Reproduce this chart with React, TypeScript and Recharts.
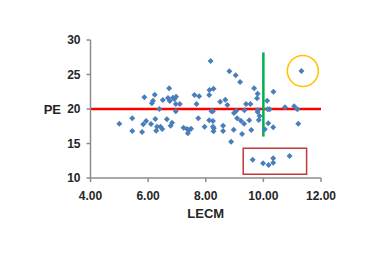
import React from "react";
import {
  ScatterChart,
  Scatter,
  XAxis,
  YAxis,
  ReferenceLine,
  ReferenceDot,
  ReferenceArea,
  Label,
} from "recharts";

// LECM values (x)
const lecm: number[] = [
  5.0, 5.45, 5.45, 5.79, 5.83, 5.93, 5.87, 6.1, 6.13, 6.17,
  6.23, 6.25, 6.28, 6.31, 6.39, 6.43, 6.49, 6.51, 6.65, 6.69,
  6.73, 6.75, 6.78, 6.83, 6.86, 6.91, 6.96, 6.97, 6.96, 7.1,
  7.23, 7.35, 7.38, 7.42, 7.49, 7.61, 7.68, 7.74, 7.77, 7.96,
  8.12, 8.13, 8.17, 8.12, 8.2, 8.25, 8.25, 8.27, 8.25, 8.27,
  8.28, 8.5, 8.6, 8.6, 8.68, 8.75, 8.82, 8.88, 8.97, 8.98,
  9.04, 9.06, 9.09, 9.19, 9.22, 9.26, 9.33, 9.34, 9.4, 9.51,
  9.55, 9.58, 9.68, 9.78, 9.8, 9.8, 9.8, 9.84, 9.87, 10.05,
  10.13, 10.15, 10.22, 10.17, 10.34, 10.35, 10.75, 11.07, 11.18, 11.21,
  11.32, 9.63, 9.99, 10.18, 10.34, 10.34, 10.91,
];

// PE values (y)
const pe: number[] = [
  17.87, 18.65, 16.81, 16.67, 17.78, 18.26, 21.7, 17.83, 20.83, 21.2,
  22.07, 18.55, 16.86, 17.43, 20.0, 17.43, 17.1, 21.3, 18.51, 21.59,
  23.0, 21.16, 17.58, 18.01, 21.64, 21.45, 20.72, 21.78, 19.67, 20.72,
  17.29, 17.1, 16.48, 16.96, 17.14, 22.03, 20.72, 18.65, 21.84, 17.43,
  22.03, 22.75, 26.96, 18.36, 19.67, 18.26, 19.67, 22.94, 17.43, 16.77,
  17.2, 21.06, 17.58, 16.81, 21.35, 20.58, 25.46, 15.25, 17.0, 19.42,
  24.88, 19.75, 18.65, 23.91, 18.3, 16.38, 17.87, 19.81, 20.72, 18.36,
  20.72, 16.96, 23.0, 21.55, 22.22, 19.86, 19.57, 18.41, 18.99, 17.06,
  21.2, 19.96, 19.96, 17.93, 17.35, 22.51, 20.25, 20.39, 19.96, 17.87,
  25.51, 12.65, 12.13, 11.88, 12.86, 12.22, 13.19,
];

const xTicks = [4, 6, 8, 10, 12];
const yTicks = [10, 15, 20, 25, 30];

const points = lecm.map((x, i) => ({ x, y: pe[i] }));

const textColor = "#262626";
const axisColor = "#8c8c8c";
const font = "'Liberation Sans', Arial, sans-serif";

const Diamond = (props: any) => {
  const { cx, cy } = props;
  const r = 3;
  return (
    <path
      d={`M${cx},${cy - r}L${cx + r},${cy}L${cx},${cy + r}L${cx - r},${cy}Z`}
      fill="#4a7ebb"
    />
  );
};

export default function App() {
  return (
    <div style={{ position: "absolute", left: 0, top: 0, background: "#fff" }}>
      <ScatterChart
        width={374}
        height={280}
        margin={{ top: 40, right: 53, bottom: 62, left: 62 }}
      >
        <XAxis
          type="number"
          dataKey="x"
          domain={[4, 12]}
          ticks={xTicks}
          interval={0}
          tickFormatter={(v: number) => v.toFixed(2)}
          stroke={axisColor}
          strokeWidth={1.5}
          tickSize={4}
          tickMargin={9}
          height={40}
          tick={{ fill: textColor, fontSize: 12, fontWeight: "bold", fontFamily: font }}
        >
          <Label
            value="LECM"
            position="insideBottom"
            offset={0}
            style={{ fill: textColor, fontSize: 13, fontWeight: "bold", fontFamily: font }}
          />
        </XAxis>
        <YAxis
          type="number"
          dataKey="y"
          domain={[10, 30]}
          ticks={yTicks}
          interval={0}
          stroke={axisColor}
          strokeWidth={1.5}
          tickSize={4}
          tickMargin={6}
          width={28.5}
          tick={{ fill: textColor, fontSize: 12, fontWeight: "bold", fontFamily: font }}
        >
          <Label
            value="PE"
            position="left"
            offset={1}
            style={{ fill: textColor, fontSize: 13, fontWeight: "bold", fontFamily: font }}
          />
        </YAxis>
        <Scatter data={points} shape={Diamond} isAnimationActive={false} />
        <ReferenceLine y={20} stroke="#ff0000" strokeWidth={2.5} />
        <ReferenceLine
          segment={[
            { x: 10, y: 16 },
            { x: 10, y: 28.2 },
          ]}
          stroke="#00b050"
          strokeWidth={2.5}
        />
        <ReferenceDot
          x={11.37}
          y={25.5}
          r={15.5}
          fill="none"
          stroke="#ffc000"
          strokeWidth={1.5}
        />
        <ReferenceArea
          x1={9.3}
          x2={11.5}
          y1={10.55}
          y2={14.3}
          fill="none"
          fillOpacity={0}
          stroke="#c0393b"
          strokeWidth={1.5}
        />
      </ScatterChart>
    </div>
  );
}
